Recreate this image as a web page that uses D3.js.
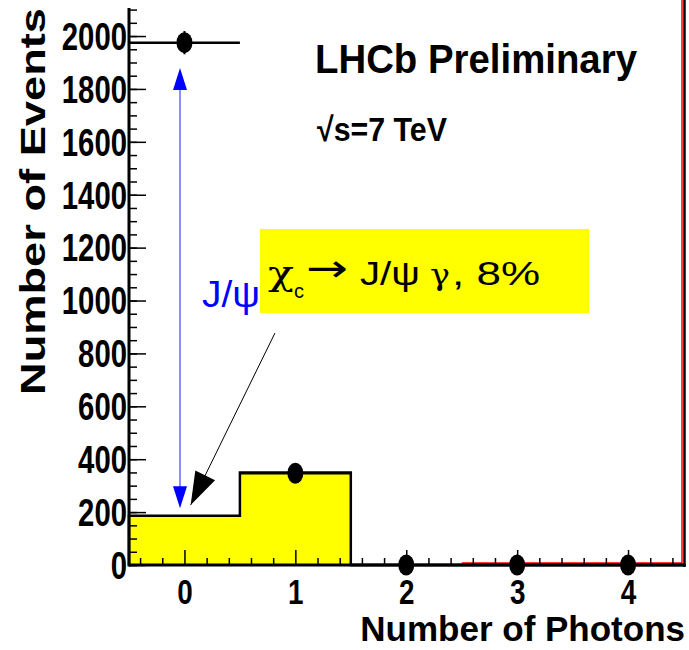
<!DOCTYPE html>
<html>
<head>
<meta charset="utf-8">
<script src="https://cdn.jsdelivr.net/npm/d3@7/dist/d3.min.js"></script>
<style>
  body { margin: 0; background: #fff; }
  svg { font-family: "Liberation Sans", Arial, Helvetica, sans-serif; }
</style>
</head>
<body>
<div id="chart-container"></div>
<script>

// photon multiplicity bins
const photonBins = [0, 1, 2, 3, 4];
const xTickLabels = ["0", "1", "2", "3", "4"];

// yellow histogram (chi_c -> J/psi gamma)
const histCounts = [186, 350, 0, 0, 0];

// black points with errors
const dataCounts = [1975, 347, 0, 0, 0];
const dataErrors = [44, 19, 0, 0, 0];

// red outline, bin edges where it runs along zero
const redEdges = [2.5, 4.5];

const yMajorTicks = [0, 200, 400, 600, 800, 1000, 1200, 1400, 1600, 1800, 2000];

const W = 689, H = 650;
const margin = { top: 8, right: 5.5, bottom: 85, left: 129 };

const x = d3.scaleLinear()
  .domain([-0.5, 4.5])
  .range([margin.left, W - margin.right]);

const y = d3.scaleLinear()
  .domain([0, 2106])
  .range([H - margin.bottom, margin.top]);

const svg = d3.select("#chart-container")
  .append("svg")
    .attr("width", W)
    .attr("height", H)
    .style("display", "block");

// histogram
const histPts = [];
photonBins.forEach((b, i) => {
  histPts.push([b - 0.5, histCounts[i]]);
  histPts.push([b + 0.5, histCounts[i]]);
});
const histArea = d3.area()
  .x(d => x(d[0]))
  .y0(y(0))
  .y1(d => y(d[1]));
const histLine = d3.line()
  .x(d => x(d[0]))
  .y(d => y(d[1]));

svg.append("path")
  .datum([[-0.5, 0]].concat(histPts).concat([[4.5, 0]]))
  .attr("fill", "#ffff00")
  .attr("d", histArea);

svg.append("path")
  .datum([[-0.5, 0]].concat(histPts))
  .attr("fill", "none")
  .attr("stroke", "#000")
  .attr("stroke-width", 2.5)
  .attr("d", histLine);

// red outline
svg.append("path")
  .attr("fill", "none")
  .attr("stroke", "#ff0000")
  .attr("stroke-width", 1.5)
  .attr("d", d3.line()([
    [x(redEdges[0]), y(0) - 2],
    [x(redEdges[1]) - 1.5, y(0) - 2],
    [x(redEdges[1]) - 1.5, 0]
  ]));

// right frame
svg.append("line")
  .attr("x1", x(4.5) + 1).attr("x2", x(4.5) + 1)
  .attr("y1", 0).attr("y2", y(0) + 2)
  .attr("stroke", "#000")
  .attr("stroke-width", 2.5);

// axes
const yAxis = svg.append("g")
  .attr("transform", `translate(${margin.left},0)`)
  .call(d3.axisLeft(y)
    .tickValues(yMajorTicks)
    .tickSize(-17)
    .tickPadding(2)
    .tickFormat(d3.format("d")));

svg.append("g")
  .attr("transform", `translate(${margin.left},0)`)
  .call(d3.axisLeft(y)
    .tickValues(d3.range(0, 2101, 50))
    .tickSize(-8)
    .tickFormat(""))
  .call(g => g.select(".domain").remove());

const xAxis = svg.append("g")
  .attr("transform", `translate(0,${y(0)})`)
  .call(d3.axisBottom(x)
    .tickValues(photonBins)
    .tickSize(-15)
    .tickFormat((d, i) => xTickLabels[i]));

svg.append("g")
  .attr("transform", `translate(0,${y(0)})`)
  .call(d3.axisBottom(x)
    .tickValues(d3.range(-0.4, 4.5, 0.2).filter(v => Math.abs(v - Math.round(v)) > 0.01))
    .tickSize(-7)
    .tickFormat(""))
  .call(g => g.select(".domain").remove());

svg.selectAll(".tick line")
  .attr("stroke", "#000")
  .attr("stroke-width", 1.5);

yAxis.select(".domain")
  .attr("d", `M0,${y(0) + 1.5}V${margin.top}`)
  .attr("stroke", "#000")
  .attr("stroke-width", 3);

xAxis.select(".domain")
  .attr("d", `M${margin.left},0H${x(4.5) + 2}`)
  .attr("stroke", "#000")
  .attr("stroke-width", 3);

svg.selectAll(".tick text")
  .attr("font-family", null);

yAxis.selectAll("text")
  .attr("font-size", 38)
  .attr("font-weight", "bold")
  .attr("fill", "#000")
  .attr("dy", "0.35em")
  .attr("textLength", d => String(d).length * 16.3)
  .attr("lengthAdjust", "spacingAndGlyphs");

xAxis.selectAll("text")
  .attr("font-size", 35)
  .attr("font-weight", "bold")
  .attr("fill", "#000")
  .attr("y", 39)
  .attr("dy", 0)
  .attr("textLength", 15.5)
  .attr("lengthAdjust", "spacingAndGlyphs");

// error bars and points
const pts = svg.append("g");
photonBins.forEach((b, i) => {
  pts.append("line")
    .attr("x1", x(b - 0.5)).attr("x2", x(b + 0.5))
    .attr("y1", y(dataCounts[i])).attr("y2", y(dataCounts[i]))
    .attr("stroke", "#000").attr("stroke-width", 2.5);
  pts.append("line")
    .attr("x1", x(b)).attr("x2", x(b))
    .attr("y1", y(dataCounts[i] - dataErrors[i])).attr("y2", y(dataCounts[i] + dataErrors[i]))
    .attr("stroke", "#000").attr("stroke-width", 2);
  pts.append("ellipse")
    .attr("cx", x(b))
    .attr("cy", y(dataCounts[i]))
    .attr("rx", 8)
    .attr("ry", 10.5)
    .attr("fill", "#000");
});

// arrows
function arrowHead(x1, y1, x2, y2, len, half, color) {
  const dx = x2 - x1, dy = y2 - y1;
  const L = Math.sqrt(dx * dx + dy * dy);
  const ux = dx / L, uy = dy / L;
  const bx = x2 - ux * len, by = y2 - uy * len;
  svg.append("path")
    .attr("d", d3.line()([
      [x2, y2],
      [bx - uy * half, by + ux * half],
      [bx + uy * half, by - ux * half]
    ]) + "Z")
    .attr("fill", color);
}

// blue double arrow J/psi
const bx = x(-0.04), bTop = y(1879), bBot = y(215);
svg.append("line")
  .attr("x1", bx).attr("x2", bx)
  .attr("y1", bTop + 10).attr("y2", bBot - 10)
  .attr("stroke", "#6666ff")
  .attr("stroke-width", 1.5);
arrowHead(bx, bBot, bx, bTop, 22, 7, "#0000ff");
arrowHead(bx, bTop, bx, bBot, 22, 7, "#0000ff");

// black arrow from label to histogram
const ax1 = x(0.816), ay1 = y(877), ax2 = x(0.056), ay2 = y(227);
svg.append("line")
  .attr("x1", ax1).attr("y1", ay1)
  .attr("x2", ax2).attr("y2", ay2)
  .attr("stroke", "#000")
  .attr("stroke-width", 1);
arrowHead(ax1, ay1, ax2, ay2, 33, 11, "#000");

// yellow label box
svg.append("rect")
  .attr("x", 260).attr("y", 229)
  .attr("width", 329).attr("height", 84)
  .attr("fill", "#ffff00");

svg.append("text")
  .attr("x", 268).attr("y", 285)
  .style("font-family", "'DejaVu Serif', serif")
  .attr("font-size", 34)
  .attr("textLength", 26).attr("lengthAdjust", "spacingAndGlyphs")
  .text("χ");
svg.append("text")
  .attr("x", 294).attr("y", 298)
  .attr("font-size", 20)
  .text("c");
svg.append("text")
  .attr("x", 306).attr("y", 281)
  .style("font-family", "'DejaVu Sans', sans-serif")
  .attr("font-size", 38)
  .attr("textLength", 42).attr("lengthAdjust", "spacingAndGlyphs")
  .text("→");
svg.append("text")
  .attr("x", 360).attr("y", 285)
  .attr("font-size", 33)
  .attr("textLength", 60).attr("lengthAdjust", "spacingAndGlyphs")
  .text("J/ψ");
svg.append("text")
  .attr("x", 430).attr("y", 285)
  .style("font-family", "'DejaVu Serif', serif")
  .attr("font-size", 30)
  .attr("textLength", 20).attr("lengthAdjust", "spacingAndGlyphs")
  .text("γ");
svg.append("text")
  .attr("x", 452).attr("y", 285)
  .attr("font-size", 34)
  .attr("textLength", 88).attr("lengthAdjust", "spacingAndGlyphs")
  .text(", 8%");

svg.append("text")
  .attr("x", 202).attr("y", 307)
  .attr("font-size", 36)
  .attr("fill", "#0000ff")
  .attr("textLength", 58).attr("lengthAdjust", "spacingAndGlyphs")
  .text("J/ψ");

// labels
svg.append("text")
  .attr("x", 315).attr("y", 73)
  .attr("font-size", 40)
  .attr("font-weight", "bold")
  .attr("textLength", 322).attr("lengthAdjust", "spacingAndGlyphs")
  .text("LHCb Preliminary");

svg.append("text")
  .attr("x", 317).attr("y", 141)
  .attr("font-size", 34)
  .attr("font-weight", "bold")
  .attr("textLength", 130).attr("lengthAdjust", "spacingAndGlyphs")
  .text("√s=7 TeV");

svg.append("text")
  .attr("x", 685).attr("y", 641)
  .attr("text-anchor", "end")
  .attr("font-size", 35)
  .attr("font-weight", "bold")
  .text("Number of Photons");

svg.append("text")
  .attr("transform", "translate(45,395) rotate(-90)")
  .attr("font-size", 35)
  .attr("font-weight", "bold")
  .attr("textLength", 387).attr("lengthAdjust", "spacingAndGlyphs")
  .text("Number of Events");

</script>
</body>
</html>
